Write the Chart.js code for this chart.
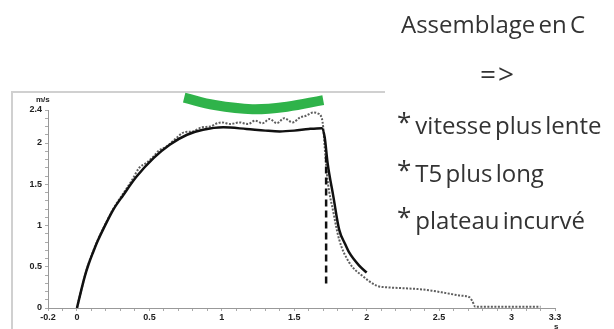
<!DOCTYPE html>
<html>
<head>
<meta charset="utf-8">
<script src="https://cdn.jsdelivr.net/npm/chart.js@4/dist/chart.umd.min.js"></script>
<style>
  html, body { margin:0; padding:0; background:#fff; width:614px; height:329px; overflow:hidden; }
  #wrap { position:relative; width:614px; height:329px; }
  #frame { position:absolute; left:11px; top:91px; width:372px; height:260px; border-top:2px solid #d0d0d0; border-left:2px solid #d0d0d0; }
  canvas { position:absolute; left:0; top:0; }
  .t { position:absolute; font-family:"Open Sans", sans-serif; color:#333; white-space:nowrap; line-height:1; letter-spacing:0; word-spacing:-3px; font-size:24px; }
  .ax { position:absolute; font-family:"Liberation Sans", Arial, sans-serif; font-weight:bold; font-size:8px; color:#222; line-height:1; }
  .star { font-size:26px; position:relative; top:-3px; margin-right:4px; }
</style>
</head>
<body>
<div id="wrap">
  <div id="frame"></div>
  <canvas id="c" width="614" height="329"></canvas>
  <div class="ax" style="left:36px;top:96px;">m/s</div>
  <div class="ax" style="left:554px;top:323px;">s</div>
  <div class="t" style="left:401px;top:12px;">Assemblage en C</div>
  <div class="t" style="left:480px;top:59px;font-size:28px;letter-spacing:2px;">=&gt;</div>
  <div class="t" style="left:397px;top:111px;"><span class="star">*</span>vitesse plus lente</div>
  <div class="t" style="left:397px;top:159px;"><span class="star">*</span>T5 plus long</div>
  <div class="t" style="left:397px;top:206px;"><span class="star">*</span>plateau incurvé</div>
</div>
<script>
// ---- data ----
const xTickLabels = [-0.2, 0, 0.5, 1, 1.5, 2, 2.5, 3, 3.3];
const yTickLabels = [0, 0.5, 1, 1.5, 2, 2.4];

// smooth (model) velocity curve, black solid
const modelT = [0.00,0.03,0.055,0.08,0.11,0.145,0.18,0.25,0.32,0.41,0.53,0.64,0.76,0.87,1.01,1.17,1.30,1.40,1.50,1.60,1.69,1.71,1.73,1.77,1.81,1.85,1.88,1.95,2.00];
const modelV = [0.00,0.22,0.39,0.53,0.67,0.82,0.95,1.19,1.37,1.59,1.82,1.98,2.10,2.16,2.19,2.17,2.15,2.14,2.15,2.17,2.18,2.07,1.76,1.35,0.95,0.78,0.67,0.51,0.43];

// measured velocity curve, grey dotted
const measT = [0.00,0.03,0.055,0.08,0.11,0.145,0.18,0.25,0.32,0.38,0.43,0.48,0.53,0.56,0.62,0.68,0.74,0.80,0.86,0.92,0.97,1.00,1.06,1.12,1.18,1.23,1.28,1.33,1.38,1.43,1.49,1.54,1.58,1.63,1.66,1.69,1.70,1.71,1.73,1.77,1.81,1.88,1.97,2.07,2.15,2.25,2.35,2.45,2.55,2.65,2.71,2.73,2.75,2.85,3.00,3.20];
const measV = [0.00,0.22,0.39,0.54,0.68,0.83,0.96,1.20,1.39,1.55,1.70,1.76,1.84,1.90,1.96,2.05,2.13,2.14,2.19,2.20,2.24,2.25,2.23,2.25,2.23,2.27,2.24,2.29,2.24,2.30,2.25,2.31,2.33,2.37,2.36,2.30,2.19,1.95,1.55,1.16,0.83,0.55,0.39,0.27,0.25,0.24,0.23,0.21,0.18,0.15,0.13,0.08,0.015,0.015,0.015,0.015];

// green annotation arc ("plateau incurvé")
const arcT = [0.74,0.95,1.21,1.45,1.70];
const arcV = [2.55,2.46,2.41,2.44,2.52];

// vertical dashed marker (T5 end)
const t5T = [1.72,1.72];
const t5V = [1.85,0.25];

const pts = (xs, ys) => xs.map((x, i) => ({x: x, y: ys[i]}));

const minorX = [];
for (let k = -2; k <= 33; k++) minorX.push(k / 10);
const minorY = [];
for (let k = 0; k <= 24; k++) minorY.push(k / 10);

const fmt = v => String(Math.round(v * 10) / 10);
const near = (arr, v) => arr.some(a => Math.abs(a - v) < 1e-6);

new Chart(document.getElementById('c'), {
  type: 'scatter',
  data: {
    datasets: [
      { label:'mesure', data: pts(measT, measV), showLine:true, borderColor:'#5e5e5e', borderWidth:2, borderDash:[2,1.5], pointRadius:0, cubicInterpolationMode:'monotone', order:2 },
      { label:'modèle', data: pts(modelT, modelV), showLine:true, borderColor:'#111', borderWidth:2.5, pointRadius:0, cubicInterpolationMode:'monotone', order:1 },
      { label:'T5', data: pts(t5T, t5V), showLine:true, borderColor:'#111', borderWidth:2.5, borderDash:[7,4], pointRadius:0, order:0 },
      { label:'plateau', data: pts(arcT, arcV), showLine:true, borderColor:'#2fb34a', borderWidth:10, borderCapStyle:'butt', pointRadius:0, tension:0.4, clip:false, order:0 }
    ]
  },
  options: {
    responsive:false, animation:false, devicePixelRatio:1,
    layout:{ padding:{ left:0, top:110, right:59, bottom:0 } },
    plugins:{ legend:{display:false}, tooltip:{enabled:false} },
    scales:{
      x:{
        type:'linear', min:-0.2, max:3.3,
        afterBuildTicks: s => { s.ticks = minorX.map(v => ({value:v})); },
        afterFit: s => { s.height = 21; },
        ticks:{ autoSkip:false, maxRotation:0, padding:1, color:'#222',
          font:{ family:'"Liberation Sans", Arial, sans-serif', weight:'bold', size:9 },
          callback: v => near(xTickLabels, v) ? fmt(v) : '' },
        grid:{ drawOnChartArea:false, tickLength:3, color:'#aaa' },
        border:{ color:'#999', width:1 }
      },
      y:{
        type:'linear', min:0, max:2.4,
        afterBuildTicks: s => { s.ticks = minorY.map(v => ({value:v})); },
        afterFit: s => { s.width = 48; },
        ticks:{ autoSkip:false, padding:3, color:'#222',
          font:{ family:'"Liberation Sans", Arial, sans-serif', weight:'bold', size:9 },
          callback: v => near(yTickLabels, v) ? fmt(v) : '' },
        grid:{ drawOnChartArea:false, tickLength:3, color:'#aaa' },
        border:{ color:'#999', width:1 }
      }
    }
  }
});
</script>
</body>
</html>
